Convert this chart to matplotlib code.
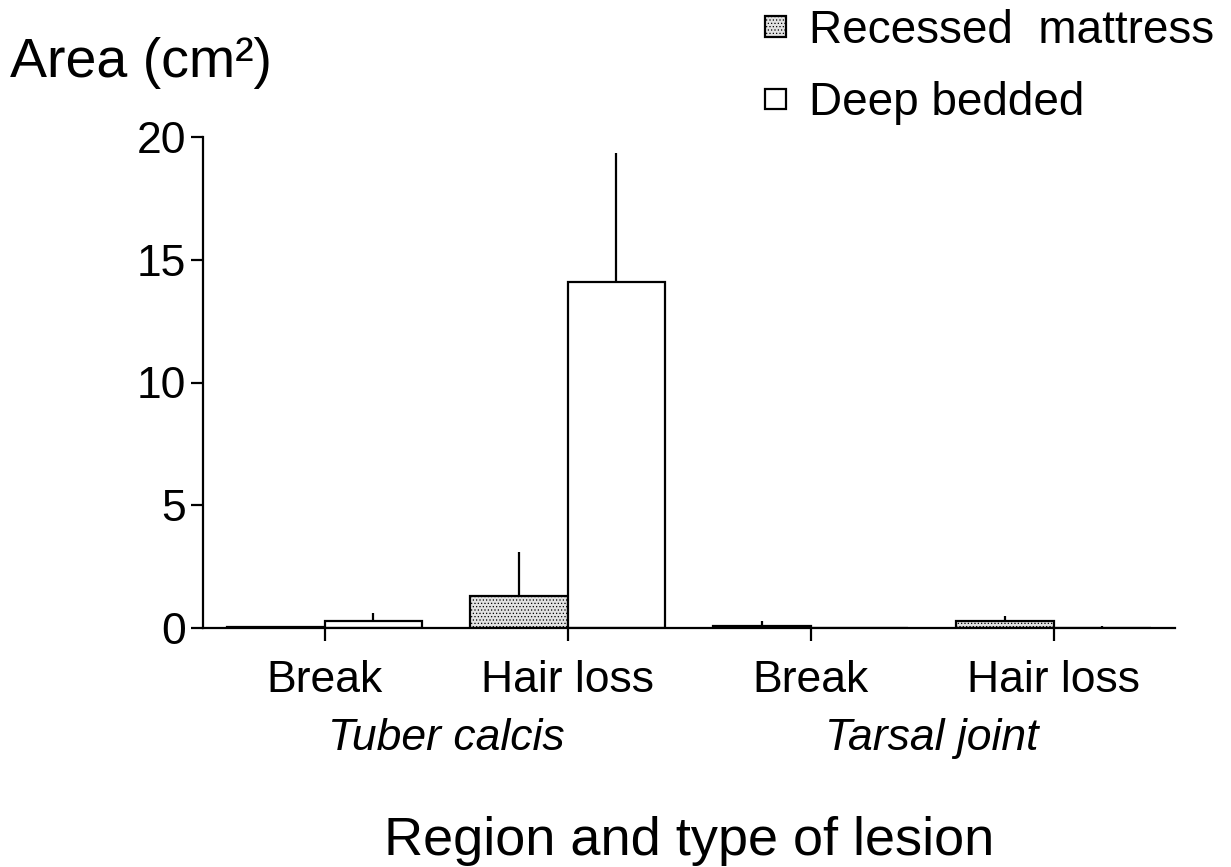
import matplotlib
matplotlib.use("Agg")
import matplotlib.pyplot as plt
import numpy as np

plt.rcParams['font.family'] = ['Liberation Sans', 'DejaVu Sans']
plt.rcParams['hatch.linewidth'] = 0.5

# values (cm^2), error bars only drawn upward
lesion_types = ['Break', 'Hair loss', 'Break', 'Hair loss']
regions = ['Tuber calcis', 'Tarsal joint']
recessed = [0.03, 1.3, 0.1, 0.3]
recessed_err = [0.03, 1.8, 0.2, 0.2]
deep = [0.3, 14.1, 0.0, 0.02]
deep_err = [0.3, 5.25, 0.0, 0.06]
series_names = ['Recessed  mattress', 'Deep bedded']

W, H = 1231, 867
fig = plt.figure(figsize=(W / 100, H / 100), dpi=100)
ax = fig.add_axes([203 / W, 1 - 628 / H, (1175 - 203) / W, (628 - 137) / H])

x = np.arange(1, len(lesion_types) + 1)
bw = 0.4
lw = 1.6

b1 = ax.bar(x - bw / 2, recessed, bw, facecolor='#e2e2e2', edgecolor='black',
            linewidth=lw, hatch='.....', label=series_names[0], zorder=2)
b2 = ax.bar(x + bw / 2, deep, bw, facecolor='white', edgecolor='black',
            linewidth=lw, label=series_names[1], zorder=2)

# upward-only error bars, no caps
ax.errorbar(x - bw / 2, recessed, yerr=[np.zeros(len(x)), recessed_err],
            fmt='none', ecolor='black', elinewidth=lw, capsize=0, zorder=3)
ax.errorbar(x + bw / 2, deep, yerr=[np.zeros(len(x)), deep_err],
            fmt='none', ecolor='black', elinewidth=lw, capsize=0, zorder=3)

ax.set_xlim(0.5, 4.5)
ax.set_ylim(0, 20)
ax.set_yticks([0, 5, 10, 15, 20])
ax.set_xticks(x)
ax.set_xticklabels(lesion_types)

for s in ['top', 'right']:
    ax.spines[s].set_visible(False)
for s in ['left', 'bottom']:
    ax.spines[s].set_linewidth(lw)

ax.tick_params(axis='y', direction='out', length=9, width=lw, pad=3, labelsize=32)
ax.tick_params(axis='x', direction='out', length=9, width=lw, pad=14, labelsize=32)

# region labels under each pair of tick labels
for i, reg in enumerate(regions):
    xc = (x[2 * i] + x[2 * i + 1]) / 2
    ax.text(xc, -0.2485, reg, transform=ax.get_xaxis_transform(),
            ha='center', va='baseline', fontsize=32, style='italic')

fig.text(689 / W, 1 - 855 / H, 'Region and type of lesion',
         ha='center', va='baseline', fontsize=39)
fig.text(10 / W, 1 - 77 / H, 'Area (cm²)', ha='left', va='baseline', fontsize=40)

fig.legend(handles=[b1, b2], loc='upper left', bbox_to_anchor=(765 / W, 1 - 9 / H),
           frameon=False, fontsize=33, borderpad=0, borderaxespad=0,
           handlelength=0.45, handleheight=0.32, handletextpad=0.5,
           labelspacing=0.62)

fig.savefig('out.png', dpi=100)
